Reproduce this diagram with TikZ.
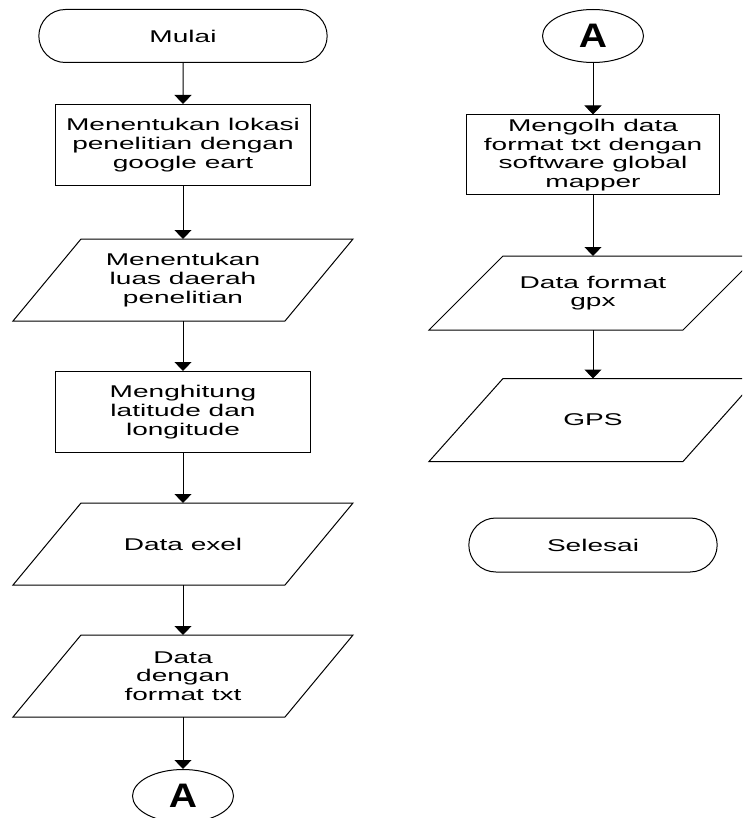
\documentclass[tikz,border=0pt]{standalone}
\usepackage{fontspec}
\setmainfont{Liberation Sans}[FakeStretch=1.65]
\newfontfamily\connfont{Liberation Sans}[FakeStretch=1.15]
\usetikzlibrary{shapes.geometric,shapes.misc,arrows.meta}
\begin{document}
\begin{tikzpicture}[x=1pt,y=-1pt,line width=1pt,
    term/.style={draw, rounded rectangle, minimum width=295pt, minimum height=53pt, font=\fontsize{17}{18.7}\selectfont},
    proc/.style={draw, rectangle, minimum width=255pt, minimum height=81pt, inner sep=2pt, align=center, font=\fontsize{17}{18.7}\selectfont},
    iobox/.style={rectangle, minimum width=271pt, minimum height=81pt, inner sep=2pt, align=center, font=\fontsize{17}{18.7}\selectfont,
        append after command={\pgfextra{\draw ([xshift=#1]\tikzlastnode.north west) -- ([xshift=#1]\tikzlastnode.north east)
            -- ([xshift=-#1]\tikzlastnode.south east) -- ([xshift=-#1]\tikzlastnode.south west) -- cycle;}}},
    iobox/.default=34pt,
    connector/.style={draw, ellipse, minimum width=101pt, minimum height=53pt, inner sep=0pt, font=\connfont\bfseries\fontsize{34}{34}\selectfont},
    flow/.style={-{Triangle[length=9pt,width=17pt]}}]
        \useasboundingbox (0,0) rectangle (742,818);
        \clip (0,0) rectangle (742,818);
        % left column
        \node[term] (mulai) at (183,36) {Mulai};
        \node[proc] (lokasi) at (183,145) {Menentukan lokasi\\penelitian dengan\\google eart};
        \node[iobox] (luas) at (183,280) {Menentukan\\luas daerah\\penelitian};
        \node[proc] (hitung) at (183,412) {Menghitung\\latitude dan\\longitude};
        \node[iobox] (exel) at (183,544) {Data exel};
        \node[iobox] (txt) at (183,676) {Data\\dengan\\format txt};
        \node[connector] (akhirA) at (183,796) {A};
        % right column
        \node[connector] (awalA) at (593,36) {A};
        \node[proc, minimum width=253pt, minimum height=80pt] (olah) at (593,155) {Mengolh data\\format txt dengan\\software global\\mapper};
        \node[iobox=37pt, minimum width=253pt, minimum height=73pt] (gpx) at (593,293) {Data format\\gpx};
        \node[iobox=37pt, minimum width=253pt, minimum height=82pt] (gps) at (593,420) {GPS};
        \node[term, minimum width=255pt, minimum height=54pt] (selesai) at (593,545) {Selesai};
        \draw[flow] (mulai) -- (lokasi);
        \draw[flow] (lokasi) -- (luas);
        \draw[flow] (luas) -- (hitung);
        \draw[flow] (hitung) -- (exel);
        \draw[flow] (exel) -- (txt);
        \draw[flow] (txt) -- (akhirA);
        \draw[flow] (awalA) -- (olah);
        \draw[flow] (olah) -- (gpx);
        \draw[flow] (gpx) -- (gps);
    \end{tikzpicture}
\end{document}
